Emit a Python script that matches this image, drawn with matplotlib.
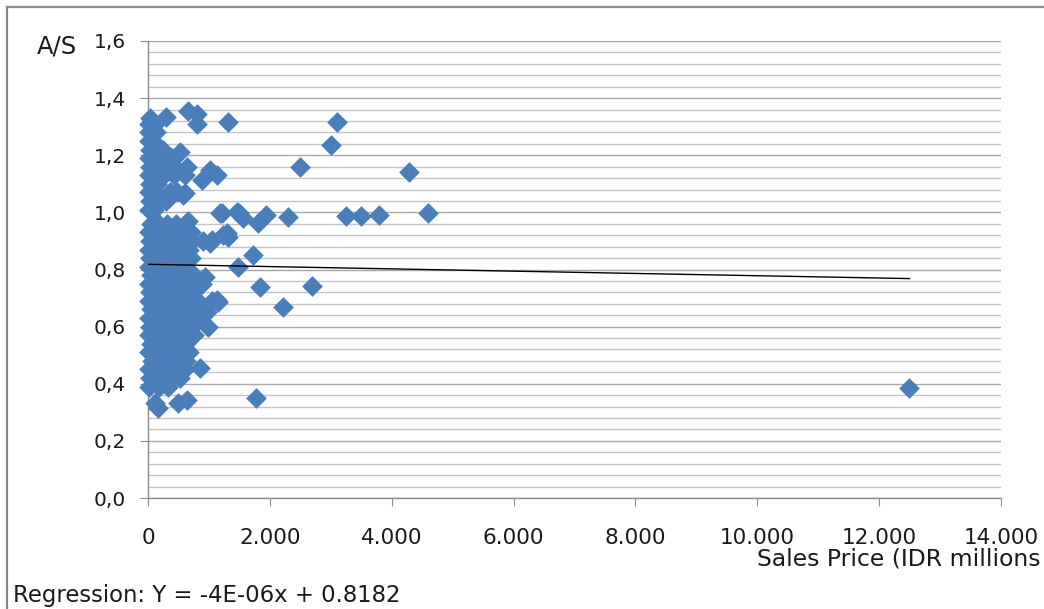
import matplotlib
matplotlib.use("Agg")
import matplotlib.pyplot as plt
from matplotlib.lines import Line2D
from matplotlib.ticker import FuncFormatter, MultipleLocator

plt.rcParams['font.family'] = ['DejaVu Sans']

# ---- data: dense cluster (sales price in IDR millions, A/S ratio) ----
cluster_x = [
    10, 180, 330,
    40, 220, 400, 520,
    15, 150, 300, 450, 600,
    60, 200, 350, 500, 620,
    20, 140, 280, 420, 560, 680,
    50, 190, 330, 470, 600,
    10, 130, 260, 400, 540, 660, 760,
    40, 170, 300, 440, 580, 720,
    20, 150, 280, 410, 550, 690, 830,
    50, 180, 320, 460, 600, 740, 900,
    10, 140, 270, 400, 540, 680, 820, 1050,
    30, 170, 300, 440, 580, 720,
    15, 140, 280, 420, 560, 690, 880,
    45, 180, 320, 460, 600, 760,
    20, 150, 290, 430, 570,
    40, 170, 310, 450, 590, 700,
    10, 140, 280, 420, 560, 680,
    35, 170, 300, 440, 580, 720, 900,
    15, 150, 290, 430, 570, 700,
    45, 180, 320, 460, 600, 650,
    # upper part
    10, 100,
    30, 140, 300,
    10, 110, 360, 480,
    40, 150,
    10, 130, 260, 420, 600,
    30, 160, 300, 450, 640,
    10, 140, 270, 400,
    30, 150, 250,
    10, 90,
    20, 130,
    10, 120,
    30,
]
cluster_y = [
    0.39, 0.39, 0.39,
    0.42, 0.42, 0.42, 0.42,
    0.45, 0.45, 0.45, 0.45, 0.45,
    0.48, 0.48, 0.48, 0.48, 0.48,
    0.51, 0.51, 0.51, 0.51, 0.51, 0.51,
    0.54, 0.54, 0.54, 0.54, 0.54,
    0.57, 0.57, 0.57, 0.57, 0.57, 0.57, 0.57,
    0.60, 0.60, 0.60, 0.60, 0.60, 0.60,
    0.63, 0.63, 0.63, 0.63, 0.63, 0.63, 0.63,
    0.66, 0.66, 0.66, 0.66, 0.66, 0.66, 0.66,
    0.69, 0.69, 0.69, 0.69, 0.69, 0.69, 0.69, 0.69,
    0.72, 0.72, 0.72, 0.72, 0.72, 0.72,
    0.75, 0.75, 0.75, 0.75, 0.75, 0.75, 0.75,
    0.78, 0.78, 0.78, 0.78, 0.78, 0.78,
    0.81, 0.81, 0.81, 0.81, 0.81,
    0.84, 0.84, 0.84, 0.84, 0.84, 0.84,
    0.87, 0.87, 0.87, 0.87, 0.87, 0.87,
    0.90, 0.90, 0.90, 0.90, 0.90, 0.90, 0.90,
    0.93, 0.93, 0.93, 0.93, 0.93, 0.93,
    0.96, 0.96, 0.96, 0.96, 0.96, 0.97,
    1.01, 1.01,
    1.04, 1.04, 1.04,
    1.07, 1.07, 1.07, 1.07,
    1.10, 1.10,
    1.13, 1.13, 1.13, 1.13, 1.13,
    1.16, 1.16, 1.16, 1.16, 1.16,
    1.19, 1.19, 1.19, 1.19,
    1.22, 1.22, 1.22,
    1.25, 1.25,
    1.28, 1.28,
    1.31, 1.31,
    1.33,
]

# ---- data: scattered points ----
scatter_x = [295, 656, 804, 804, 1313, 525, 1017, 1132, 886, 574, 607,
             1494, 1214, 1182, 1560, 1461, 1313, 1297, 1231, 1018, 1050,
             1723, 1477, 1838, 2216, 853, 1805, 1937, 2298, 1149, 1132,
             985, 968, 935, 640, 492, 164, 115, 1772, 2495, 3003, 3102,
             3250, 3496, 3791, 4283, 4595, 2692, 12490]
scatter_y = [1.334, 1.355, 1.344, 1.31, 1.317, 1.21, 1.148, 1.131, 1.113, 1.06, 1.068,
             0.998, 0.998, 0.998, 0.98, 1.0, 0.914, 0.928, 0.92, 0.893, 0.903,
             0.851, 0.81, 0.739, 0.669, 0.455, 0.963, 0.991, 0.984, 0.686, 0.693,
             0.60, 0.651, 0.774, 0.343, 0.333, 0.315, 0.333, 0.35, 1.159, 1.236, 1.317,
             0.987, 0.987, 0.991, 1.141, 0.998, 0.742, 0.385]

# ---- regression ----
reg_slope = -4e-06
reg_intercept = 0.8182
reg_x = [0, 12500]

x_ticks = [0, 2000, 4000, 6000, 8000, 10000, 12000, 14000]
y_ticks = [0.0, 0.2, 0.4, 0.6, 0.8, 1.0, 1.2, 1.4, 1.6]

x_label = "Sales Price (IDR millions"
y_label = "A/S"
reg_text = "Regression: Y = -4E-06x + 0.8182"

W, H = 1044, 609
TXT = '#1a1a1a'
fig = plt.figure(figsize=(W / 100, H / 100), dpi=100)
ax = fig.add_axes([148 / W, 1 - 498 / H, (1001 - 148) / W, (498 - 41) / H])

blue = '#4A7EBB'
all_x = cluster_x + scatter_x
all_y = cluster_y + scatter_y
ax.scatter(all_x, all_y, marker='D', s=100, color=blue, edgecolors=blue,
           linewidths=0.5, zorder=3, clip_on=False)

reg_y = [reg_slope * v + reg_intercept for v in reg_x]
ax.plot(reg_x, reg_y, color='black', lw=1.0, zorder=4)

ax.set_xlim(0, 14000)
ax.set_ylim(0, 1.6)
ax.set_xticks(x_ticks)
ax.set_yticks(y_ticks)
ax.yaxis.set_minor_locator(MultipleLocator(0.04))
ax.xaxis.set_major_formatter(FuncFormatter(lambda v, p: f"{int(round(v)):,}".replace(',', '.')))
ax.yaxis.set_major_formatter(FuncFormatter(lambda v, p: f"{v:.1f}".replace('.', ',')))

ax.grid(axis='y', which='major', color='#A8A8A8', lw=1.0, zorder=0)
ax.grid(axis='y', which='minor', color='#C4C4C4', lw=1.0, zorder=0)
ax.set_axisbelow(True)

for s in ['top', 'right']:
    ax.spines[s].set_visible(False)
for s in ['left', 'bottom']:
    ax.spines[s].set_color('#8C8C8C')
    ax.spines[s].set_linewidth(1.0)

ax.tick_params(axis='y', which='major', direction='out', length=5.8, color='#8C8C8C',
               labelsize=14.5, pad=10, labelcolor=TXT)
ax.tick_params(axis='y', which='minor', length=0)
ax.tick_params(axis='x', which='major', direction='out', length=5.8, color='#8C8C8C',
               labelsize=15.5, pad=16, labelcolor=TXT)

fig.text(757 / W, 1 - 566 / H, x_label, ha='left', va='baseline', fontsize=16.9, color=TXT)
fig.text(37 / W, 1 - 53 / H, y_label, ha='left', va='baseline', fontsize=17.5, color=TXT)
fig.text(13 / W, 1 - 602 / H, reg_text, ha='left', va='baseline', fontsize=16.4, color=TXT)

# chart-area border (top and left visible)
fig.add_artist(Line2D([6.5 / W, 6.5 / W], [0, 1 - 6.5 / H], transform=fig.transFigure,
                      color='#8A8A8A', lw=1.6))
fig.add_artist(Line2D([6.5 / W, 1], [1 - 6.5 / H, 1 - 6.5 / H], transform=fig.transFigure,
                      color='#8A8A8A', lw=1.6))

fig.savefig('out.png', dpi=100)
